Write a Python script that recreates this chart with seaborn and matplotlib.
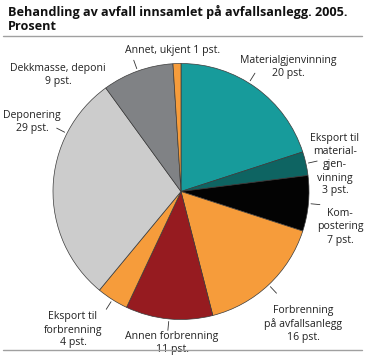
import numpy as np
import matplotlib
matplotlib.use('Agg')
import matplotlib.pyplot as plt
import seaborn as sns

# Data, clockwise from 12 o'clock
categories = ['Materialgjenvinning', 'Eksport til\nmaterial-\ngjen-\nvinning', 'Kom-\npostering',
              'Forbrenning\npå avfallsanlegg', 'Annen forbrenning', 'Eksport til\nforbrenning',
              'Deponering', 'Dekkmasse, deponi', 'Annet, ukjent']
shares = [20, 3, 7, 16, 11, 4, 29, 9, 1]
colors = ['#179b9b', '#0e6462', '#030303', '#f69c3b', '#961b20', '#f69c3b',
          '#cccccc', '#808285', '#f69c3b']

# label block centres in pixels (layout), and leader angle overrides
label_px = [(288, 67), (335, 165), (340, 227), (303, 324), (172, 343),
            (73, 330), (32, 122), (58, 75), (173, 50)]
label_sep = ['\n', '\n', '\n', '\n', '\n', '\n', '\n', '\n', ' ']
leader_override = {0: 32, 6: 297}
no_leader = {8}

W, H = 368, 360
cx, cy, R = 181, 191.5, 128

sns.set_theme(style='white')
plt.rcParams['font.family'] = ['Open Sans', 'DejaVu Sans']

fig = plt.figure(figsize=(W / 100, H / 100), dpi=100)
ax = fig.add_axes([(cx - R) / W, (H - cy - R) / H, 2 * R / W, 2 * R / H])
ax.pie(shares, colors=colors, startangle=90, counterclock=False, radius=1,
       wedgeprops=dict(edgecolor='#3a3a3a', linewidth=0.5))
ax.set_xlim(-1, 1)
ax.set_ylim(-1, 1)
ax.set_aspect('equal')
ax.axis('off')

cum = np.cumsum([0] + shares)
for i, (cat, val) in enumerate(zip(categories, shares)):
    px, py = label_px[i]
    x = (px - cx) / R
    y = (cy - py) / R
    ax.text(x, y, f'{cat}{label_sep[i]}{val} pst.', ha='center', va='center',
            fontsize=7.6, color='#222222', linespacing=1.25, clip_on=False)
    if i in no_leader:
        continue
    ang = leader_override.get(i, (cum[i] + cum[i + 1]) / 2 * 3.6)
    a = np.deg2rad(ang)
    r0, r1 = 1.02, 1.09
    ax.plot([r0 * np.sin(a), r1 * np.sin(a)], [r0 * np.cos(a), r1 * np.cos(a)],
            color='#333333', lw=0.6, clip_on=False)

fig.text(8 / W, 1 - 5 / H, 'Behandling av avfall innsamlet på avfallsanlegg. 2005.\nProsent',
         ha='left', va='top', fontsize=9.1, fontweight='bold', color='#111111', linespacing=1.15)

for yy in (36, 350):
    fig.add_artist(plt.Line2D([3 / W, 362 / W], [1 - yy / H, 1 - yy / H],
                              color='#a0a0a0', lw=1.0))

fig.savefig('out.png', dpi=100, facecolor='white')
